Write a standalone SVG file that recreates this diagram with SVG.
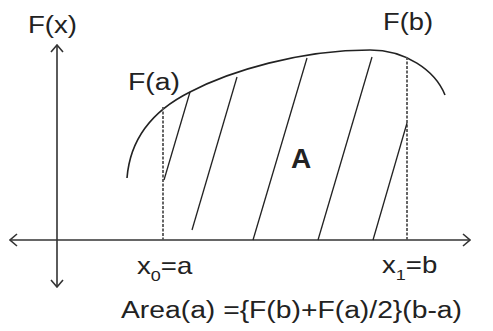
<svg xmlns="http://www.w3.org/2000/svg" width="493" height="331" viewBox="0 0 493 331">
<style>
  .t { font-family: "Liberation Sans", Arial, sans-serif; font-size: 23px; fill: #222; }
  .b { font-weight: bold; font-size: 28px; }
  .ax { stroke: #333; stroke-width: 1.6; fill: none; }
  .cv { stroke: #222; stroke-width: 1.6; fill: none; }
  .h { stroke: #222; stroke-width: 1.3; fill: none; }
  .d { stroke: #555; stroke-width: 1.8; stroke-dasharray: 3 1.5; fill: none; }
</style>
<defs>
  <marker id="chev" viewBox="0 0 10 14" refX="9" refY="7" markerWidth="10" markerHeight="14" markerUnits="userSpaceOnUse" orient="auto-start-reverse">
    <path d="M2,1 L9,7 L2,13" fill="none" stroke="#333" stroke-width="1.6"/>
  </marker>
</defs>
<rect width="493" height="331" fill="#fff"/>
<g id="connectors">
  <line class="ax" x1="10" y1="240" x2="470" y2="240" marker-start="url(#chev)" marker-end="url(#chev)"/>
  <line class="ax" x1="57" y1="287" x2="57" y2="45" marker-start="url(#chev)" marker-end="url(#chev)"/>
  <path class="cv" d="M127,178 C130,140 150,112 190,92 C230,71 300,50 370,50 C405,50 435,70 445,95"/>
  <line class="d" x1="163" y1="107" x2="163" y2="240"/>
  <line class="d" x1="407" y1="57" x2="407" y2="240"/>
  <line class="h" x1="190" y1="92" x2="164" y2="180"/>
  <line class="h" x1="237" y1="77" x2="192" y2="230"/>
  <line class="h" x1="307" y1="58" x2="253" y2="240"/>
  <line class="h" x1="372" y1="57" x2="318" y2="240"/>
  <line class="h" x1="407" y1="123" x2="373" y2="240"/>
</g>
<g id="label-fx"><text class="t" x="28" y="33" textLength="49" lengthAdjust="spacingAndGlyphs">F(x)</text></g>
<g id="label-fa"><text class="t" x="128" y="90" textLength="52" lengthAdjust="spacingAndGlyphs">F(a)</text></g>
<g id="label-fb"><text class="t" x="383" y="30" textLength="50" lengthAdjust="spacingAndGlyphs">F(b)</text></g>
<g id="label-A"><text class="t b" x="291" y="168">A</text></g>
<g id="label-x0">
  <text class="t" transform="matrix(1.2,0,0,1,137,274)">x<tspan font-size="15" dy="7">0</tspan><tspan dy="-7">=a</tspan></text>
</g>
<g id="label-x1">
  <text class="t" transform="matrix(1.2,0,0,1,382,273)">x<tspan font-size="15" dy="7">1</tspan><tspan dy="-7">=b</tspan></text>
</g>
<g id="label-area"><text class="t" x="121" y="318" textLength="341" lengthAdjust="spacingAndGlyphs">Area(a) ={F(b)+F(a)/2}(b-a)</text></g>
</svg>
